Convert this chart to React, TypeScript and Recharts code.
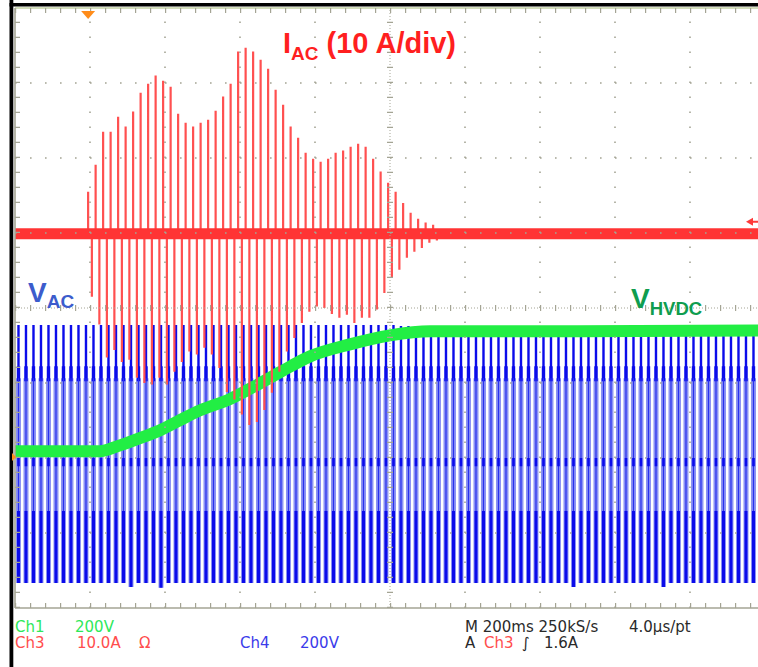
import React from "react";
import { ComposedChart, Line, XAxis, YAxis, ReferenceLine, ReferenceDot } from "recharts";

// ---------- Timebase (M 200 ms/div, 10 divisions) ----------
const TIME_SPAN_MS = 2000;
const MAINS_PERIOD_MS = 20;
const timeGridMs = [200, 400, 600, 800, 1200, 1400, 1600, 1800];
const divGrid = [-3, -2, -1, 1, 2, 3];

// ---------- Ch3: AC current, 10 A/div ----------
const CH3_A_PER_DIV = 10;
const CH3_OFFSET_DIV = 0.99;
const TRIGGER_MS = 195;
const TRIGGER_LEVEL_A = 1.6;
const IAC_POS_START_MS = 195;
const IAC_NEG_START_MS = 205;
const iacPositivePeaksA = [
  5.6, 9.2, 13.6, 13.6, 15.6, 14.3, 16.3, 18.8, 20.0, 21.1, 20.4, 19.6, 16.0, 14.8, 14.3, 14.8,
  15.2, 16.4, 18.3, 20.0, 24.3, 24.8, 24.3, 23.2, 22.0, 19.2, 17.2, 14.3, 12.8, 10.8, 10.0, 9.6,
  10.0, 10.8, 11.1, 11.6, 12.0, 11.6, 10.0, 8.3, 6.8, 5.6, 4.1, 2.8, 2.0, 1.5, 1.2,
];
const iacNegativePeaksA = [
  -8.4, -12.1, -16.5, -15.5, -17.1, -16.8, -19.2, -19.9, -20.1, -19.2, -20.1, -18.4, -17.1, -15.7,
  -16.1, -15.2, -16.1, -17.9, -21.1, -22.1, -24.1, -25.5, -25.1, -23.5, -21.2, -18.4, -15.7, -13.9,
  -11.9, -10.4, -9.7, -9.9, -10.7, -11.2, -10.8, -11.9, -11.2, -11.2, -10.1, -7.9, -5.9, -4.8, -3.2,
  -2.4, -1.9, -1.2, -0.9,
];

// ---------- Ch1: HVDC bus, 200 V/div ----------
const CH1_V_PER_DIV = 200;
const CH1_OFFSET_DIV = -1.99;
const hvdcTimeMs = [0, 120, 227, 272, 333, 387, 440, 493, 573, 653, 707, 787, 893, 1000, 1107, 1500, 2000];
const hvdcVolts = [16, 16, 16, 29, 51, 72, 99, 125, 155, 197, 227, 269, 301, 325, 336, 336, 338];

// ---------- Ch4: AC voltage, 200 V/div ----------
const CH4_V_PER_DIV = 200;
const CH4_OFFSET_DIV = -1.96;
const VAC_START_MS = 9.3;
const VAC_UPPER_KNEE_V = 205;
const VAC_UPPER_KNEE_TOP_V = 237;
const VAC_LOWER_KNEE_V = -149;
const VAC_MID_KNEE_V = -152;
const VAC_ZERO_TICK_TOP_V = -8;
const VAC_ZERO_TICK_BOTTOM_V = -30;
const vacUpperPeakV = [
  347, 347, 347, 347, 347, 347, 347, 347, 347, 347, 347, 347, 347, 347, 347, 347, 347, 347, 347, 347,
  347, 347, 347, 347, 347, 347, 347, 347, 347, 347, 347, 347, 347, 347, 347, 347, 347, 347, 347, 347,
  347, 347, 347, 347, 347, 347, 347, 347, 347, 347, 347, 344, 344, 344, 344, 344, 344, 344, 344, 344,
  344, 344, 344, 344, 344, 344, 344, 344, 344, 344, 344, 344, 344, 344, 344, 344, 344, 344, 344, 344,
  344, 344, 344, 344, 344, 344, 344, 344, 344, 344, 344, 344, 344, 344, 344, 344, 344, 344, 344,
];
const vacLowerPeakV = [
  -341, -341, -341, -341, -341, -341, -341, -341, -341, -341, -341, -341, -341, -341, -341, -352, -341, -341, -341, -354,
  -341, -341, -341, -341, -341, -341, -341, -341, -341, -341, -341, -341, -341, -341, -341, -341, -341, -341, -341, -341,
  -341, -341, -341, -341, -341, -341, -341, -341, -341, -341, -341, -341, -341, -341, -341, -341, -341, -341, -341, -341,
  -341, -341, -341, -341, -341, -341, -341, -341, -341, -341, -341, -341, -341, -341, -352, -341, -341, -341, -341, -341,
  -341, -341, -341, -341, -341, -341, -352, -341, -341, -341, -341, -341, -341, -341, -341, -341, -341, -341, -341,
];

// ---------- helpers ----------
const ch3 = (a: number) => CH3_OFFSET_DIV + a / CH3_A_PER_DIV;
const ch1 = (v: number) => CH1_OFFSET_DIV + v / CH1_V_PER_DIV;
const ch4 = (v: number) => CH4_OFFSET_DIV + v / CH4_V_PER_DIV;

type Row = { t: number; y: number | null };
function segments(times: number[], from: number[], to: number[]): Row[] {
  const rows: Row[] = [];
  for (let i = 0; i < times.length; i++) {
    rows.push({ t: times[i], y: from[i] }, { t: times[i], y: to[i] }, { t: times[i], y: null });
  }
  return rows;
}

const posTimes = iacPositivePeaksA.map((_, k) => IAC_POS_START_MS + k * MAINS_PERIOD_MS);
const negTimes = iacNegativePeaksA.map((_, k) => IAC_NEG_START_MS + k * MAINS_PERIOD_MS);
const iacPosRows = segments(posTimes, posTimes.map(() => ch3(0)), iacPositivePeaksA.map(ch3));
const iacNegRows = segments(negTimes, negTimes.map(() => ch3(0)), iacNegativePeaksA.map(ch3));
const iacBaseRows: Row[] = [
  { t: 0, y: ch3(0) },
  { t: TIME_SPAN_MS, y: ch3(0) },
];

const hvdcRows: Row[] = hvdcTimeMs.map((t, i) => ({ t, y: ch1(hvdcVolts[i]) }));

const vacTimes = vacUpperPeakV.map((_, k) => VAC_START_MS + k * MAINS_PERIOD_MS);
const cst = (v: number) => vacTimes.map(() => ch4(v));
const vacHaloRows = segments(vacTimes, cst(VAC_UPPER_KNEE_V), vacLowerPeakV.map(ch4));
const vacTopRows = segments(vacTimes, vacUpperPeakV.map(ch4), cst(VAC_UPPER_KNEE_V));
const vacKneeRows = segments(vacTimes, cst(VAC_UPPER_KNEE_TOP_V), cst(VAC_UPPER_KNEE_V - 8));
const vacMidRows = segments(vacTimes, cst(VAC_UPPER_KNEE_V), cst(VAC_MID_KNEE_V));
const vacZeroRows = segments(vacTimes, cst(VAC_ZERO_TICK_TOP_V), cst(VAC_ZERO_TICK_BOTTOM_V));
const vacBottomRows = segments(vacTimes, cst(VAC_LOWER_KNEE_V), vacLowerPeakV.map(ch4));

const ser = {
  dataKey: "y",
  dot: false,
  activeDot: false,
  isAnimationActive: false,
  connectNulls: false,
  type: "linear" as const,
  legendType: "none" as const,
};

const GRID = "#a4a494";
const FOOT_FONT = "'DejaVu Sans', 'Liberation Sans', sans-serif";
const BOLD_FONT = "'Liberation Sans', Arial, sans-serif";
const CHART_W = 770;
const CHART_H = 667;
const MARGIN = { top: 8, right: 5, bottom: 59, left: 15 };

export default function App() {
  return (
    <div style={{ position: "relative", width: 758, height: 667, overflow: "hidden", background: "#fff" }}>
      <style>{"body{margin:0}"}</style>

      {/* waveforms */}
      <div style={{ position: "absolute", left: 0, top: 0 }}>
        <ComposedChart width={CHART_W} height={CHART_H} margin={MARGIN}>
          <XAxis dataKey="t" type="number" domain={[0, TIME_SPAN_MS]} hide allowDataOverflow />
          <YAxis type="number" domain={[-4, 4]} hide allowDataOverflow />

          {/* Ch4 V_AC */}
          <Line {...ser} data={vacHaloRows} stroke="#8b92f3" strokeWidth={5} />
          <Line {...ser} data={vacTopRows} stroke="#0b0bea" strokeWidth={2.4} />
          <Line {...ser} data={vacKneeRows} stroke="#0b0bea" strokeWidth={3.4} />
          <Line {...ser} data={vacMidRows} stroke="#2a30ee" strokeWidth={1.2} />
          <Line {...ser} data={vacZeroRows} stroke="#0b0bea" strokeWidth={2.6} />
          <Line {...ser} data={vacBottomRows} stroke="#0b0bea" strokeWidth={3} />

          {/* Ch1 V_HVDC */}
          <Line {...ser} data={hvdcRows} type="monotone" stroke="#22ee44" strokeWidth={12} />

          {/* Ch3 I_AC */}
          <Line {...ser} data={iacPosRows} stroke="#ff5050" strokeWidth={2.2} />
          <Line {...ser} data={iacNegRows} stroke="#ff5050" strokeWidth={2.2} />
          <Line {...ser} data={iacBaseRows} stroke="#ff3434" strokeWidth={11} />
        </ComposedChart>
      </div>

      {/* graticule drawn over the traces, same scales */}
      <div style={{ position: "absolute", left: 0, top: 0 }}>
        <ComposedChart width={CHART_W} height={CHART_H} margin={MARGIN}>
          <XAxis dataKey="t" type="number" domain={[0, TIME_SPAN_MS]} hide allowDataOverflow />
          <YAxis type="number" domain={[-4, 4]} hide allowDataOverflow />
          {timeGridMs.map((t) => (
            <ReferenceLine key={"vx" + t} x={t} stroke={GRID} strokeWidth={1.6} strokeDasharray="1.6 13.4" />
          ))}
          {divGrid.map((d) => (
            <ReferenceLine key={"hy" + d} y={d} stroke={GRID} strokeWidth={1.6} strokeDasharray="1.6 13.4" />
          ))}
          <ReferenceLine x={TIME_SPAN_MS / 2} stroke={GRID} strokeWidth={1} strokeDasharray="1 2" />
          <ReferenceLine x={TIME_SPAN_MS / 2} stroke={GRID} strokeWidth={6} strokeDasharray="1.2 13.8" />
          <ReferenceLine y={0} stroke={GRID} strokeWidth={1} strokeDasharray="1 2" />
          <ReferenceLine y={0} stroke={GRID} strokeWidth={6} strokeDasharray="1.2 13.8" />
          <ReferenceLine y={4} stroke="#c4d2a4" strokeWidth={1.6} />
          <ReferenceLine y={4 - 2.5 / 75} stroke={GRID} strokeWidth={5} strokeDasharray="1.2 13.8" />
          <ReferenceLine y={-4} stroke={GRID} strokeWidth={1.6} />
          <ReferenceLine y={-4 + 2.5 / 75} stroke={GRID} strokeWidth={5} strokeDasharray="1.2 13.8" />
          <ReferenceLine x={0} stroke={GRID} strokeWidth={1.6} />
          <ReferenceLine x={2.5 / 0.375} stroke={GRID} strokeWidth={5} strokeDasharray="1.2 13.8" />

          <ReferenceDot
            x={TRIGGER_MS}
            y={4}
            ifOverflow="visible"
            shape={(p: any) => (
              <path d={`M${p.cx - 7},${p.cy + 3} L${p.cx + 7},${p.cy + 3} L${p.cx},${p.cy + 11} Z`} fill="#ff8c1a" />
            )}
          />
          <ReferenceDot
            x={TIME_SPAN_MS}
            y={ch3(TRIGGER_LEVEL_A)}
            ifOverflow="visible"
            shape={(p: any) => (
              <g>
                <path d={`M${p.cx - 19},${p.cy} L${p.cx - 12},${p.cy - 4} L${p.cx - 12},${p.cy + 4} Z`} fill="#ff3a3a" />
                <path d={`M${p.cx - 13},${p.cy} L${p.cx - 5},${p.cy}`} stroke="#ff3a3a" strokeWidth={2} />
              </g>
            )}
          />
        </ComposedChart>
      </div>

      <svg width={758} height={667} style={{ position: "absolute", left: 0, top: 0, pointerEvents: "none" }}>
        <rect x={9.5} y={0} width={3.8} height={667} fill="#000" />
        <rect x={9.5} y={3} width={750} height={3.5} fill="#000" />
        <path d="M12,453 L16,457 L12,461 Z" fill="#ff8c1a" />

        <text x={283} y={53} fontFamily={BOLD_FONT} fontWeight="bold" fontSize={29} fill="#ff1f1f" style={{ whiteSpace: "pre" }}>
          I<tspan fontSize={19} dy={7}>AC</tspan>
          <tspan dy={-7}> (10 A/div)</tspan>
        </text>
        <text x={28} y={302} fontFamily={BOLD_FONT} fontWeight="bold" fontSize={28} fill="#3c5ccc">
          V<tspan fontSize={19} dy={6}>AC</tspan>
        </text>
        <text x={631} y={308} fontFamily={BOLD_FONT} fontWeight="bold" fontSize={28} fill="#0f9d4f">
          V<tspan fontSize={18.5} dy={7}>HVDC</tspan>
        </text>

        <g fontFamily={FOOT_FONT} fontSize={15}>
          <text x={15} y={631.5} fill="#2ee85a">Ch1</text>
          <text x={75} y={631.5} fill="#2ee85a">200V</text>
          <text x={15} y={648} fill="#ff4d4d">Ch3</text>
          <text x={77} y={648} fill="#ff4d4d">10.0A</text>
          <text x={139} y={648} fill="#ff4d4d">Ω</text>
          <text x={240} y={648} fill="#3b3bea">Ch4</text>
          <text x={300} y={648} fill="#3b3bea">200V</text>
          <text x={465} y={631.5} fill="#2a2a2a">M 200ms 250kS/s</text>
          <text x={629} y={631.5} fill="#2a2a2a">4.0µs/pt</text>
          <text x={465} y={648} fill="#2a2a2a">A</text>
          <text x={484} y={648} fill="#ff4d4d">Ch3</text>
          <text x={522} y={648} fill="#2a2a2a">∫</text>
          <text x={544} y={648} fill="#2a2a2a">1.6A</text>
        </g>
      </svg>
    </div>
  );
}
